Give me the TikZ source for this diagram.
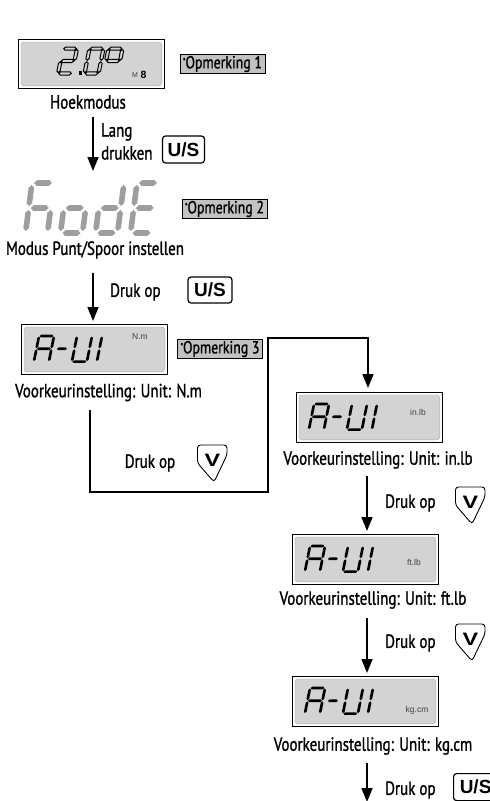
\documentclass[tikz,border=0pt]{standalone}
\usepackage{fontspec}
\setmainfont{PT Sans}[FakeStretch=0.79,FakeBold=1.2]
\newfontfamily\btnfont{Liberation Sans}
\usetikzlibrary{arrows.meta}
\definecolor{lcdbg}{HTML}{D3D3D3}
\definecolor{notebg}{HTML}{C2C2C2}
\definecolor{seggray}{HTML}{9E9E9E}
\newcommand{\sgHor}[3]{(#2+\lcG,#1) -- (#2+\lcG+\lcT/2,#1-\lcT/2) -- (#3-\lcG-\lcT/2,#1-\lcT/2) -- (#3-\lcG,#1) -- (#3-\lcG-\lcT/2,#1+\lcT/2) -- (#2+\lcG+\lcT/2,#1+\lcT/2) -- cycle }
\newcommand{\sgVer}[3]{(#1,#2+\lcG) -- (#1+\lcT/2,#2+\lcG+\lcT/2) -- (#1+\lcT/2,#3-\lcG-\lcT/2) -- (#1,#3-\lcG) -- (#1-\lcT/2,#3-\lcG-\lcT/2) -- (#1-\lcT/2,#2+\lcG+\lcT/2) -- cycle }
\newcommand{\lsa}{\sgHor{0}{0}{\lcW}}
\newcommand{\lsg}{\sgHor{\lcH}{0}{\lcW}}
\newcommand{\lsd}{\sgHor{2*\lcH}{0}{\lcW}}
\newcommand{\lsf}{\sgVer{0}{0}{\lcH}}
\newcommand{\lsb}{\sgVer{\lcW}{0}{\lcH}}
\newcommand{\lse}{\sgVer{0}{\lcH}{2*\lcH}}
\newcommand{\lsc}{\sgVer{\lcW}{\lcH}{2*\lcH}}
\newcommand{\lcdch}[4]{\begin{scope}[shift={(#2,#3)},xslant=\lcS]\path[#1] #4;\end{scope}}
\newcommand{\auidigits}[2]{%
  \lcdch{aseg}{#1+18}{#2+12}{\lsa\lsb\lsc\lse\lsf\lsg}%
  \lcdch{aseg}{#1+38}{#2+12}{\sgHor{\lcH}{0}{11}}%
  \lcdch{aseg}{#1+56}{#2+12}{\lsb\lsc\lsd\lse\lsf}%
  \lcdch{aseg}{#1+81}{#2+12}{\lsf\lse}}
\newcommand{\vbutton}[3]{%
  \draw[vbtn] (#2+0.5,#3+2) -- (#2+0.5,#3+20) -- (#2+17,#3+39) -- (#2+30,#3+12) -- (#2+30,#3+2) -- cycle;
  \node[vsym] (#1) at (#2+15.5,#3+17) {\scalebox{1.3}[1]{V}};}
\newcommand{\noteast}{\raisebox{4pt}{\fontsize{9}{9}\selectfont *}}
\begin{document}
\begin{tikzpicture}[x=1pt,y=-1pt,
  lcdbox/.style={draw=black,line width=0.8pt,fill=white,minimum width=146pt,minimum height=50pt,inner sep=0pt,anchor=north west},
  lcdin/.style={fill=lcdbg,draw=black!35,line width=0.4pt,rounded corners=3pt},
  aseg/.style={fill=black},
  hseg/.style={fill=seggray},
  oseg/.style={draw=black,line width=1pt,fill=lcdbg,line join=miter},
  unit/.style={font=\btnfont\fontsize{8.5}{9}\selectfont,text=black!75,inner sep=0pt},
  lbl/.style={font=\fontsize{19}{21}\selectfont,inner sep=0pt},
  note/.style={draw=black,line width=0.5pt,fill=notebg,minimum width=85pt,minimum height=19pt,inner sep=0pt,font=\fontsize{17.5}{18}\selectfont},
  usbtn/.style={draw=black,line width=1.2pt,rounded corners=3pt,minimum width=42pt,minimum height=27pt,inner sep=0pt,font=\btnfont\bfseries\fontsize{19}{19}\selectfont},
  vbtn/.style={draw=black,line width=0.9pt,rounded corners=3pt},
  vsym/.style={inner sep=0pt,font=\btnfont\bfseries\fontsize{18}{18}\selectfont},
  arr/.style={line width=1.5pt,-{Triangle[length=14pt,width=11pt]}},
  lin/.style={line width=1.5pt}]
\useasboundingbox (0,0) rectangle (490,801);

% ---- top display 2.0°
\node[lcdbox,minimum height=49pt] (lcd0) at (18,39) {};
\path[lcdin] ([shift={(3,3)}]lcd0.north west) rectangle ([shift={(-3,-3)}]lcd0.south east);
\def\lcW{14}\def\lcH{12.4}\def\lcT{3.2}\def\lcG{0.8}\def\lcS{0.2}
\lcdch{oseg}{63}{48.6}{\lsa\lsb\lsg\lse\lsd}
\fill (78.5,71) rectangle (82,74.5);
\lcdch{oseg}{89.5}{48.6}{\lsa\lsb\lsc\lsd\lse\lsf}
\lcdch{oseg}{108.5}{48.6}{\lsa\lsb\lsg\lsf}
\node[anchor=base west,inner sep=0pt,font=\btnfont\fontsize{7}{7}\selectfont,text=black!75] (m8m) at (132,77) {M};
\node[anchor=base west,inner sep=0pt,font=\btnfont\bfseries\fontsize{10.5}{10.5}\selectfont] (m8d) at (140.5,78) {8};
\node[note] (n1) at (222.5,64) {\noteast Opmerking 1};
\node[lbl] (t0) at (88,102) {Hoekmodus};

% ---- arrow 1
\coordinate (a1s) at (93,117);
\coordinate (a1e) at (93,171);
\draw[arr] (a1s) -- (a1e);
\node[lbl,anchor=west] (lang) at (101,132) {Lang};
\node[lbl,anchor=west] (druk) at (101,153) {drukken};
\node[usbtn] (us1) at (183.5,149.5) {U/S};

% ---- hodE display
\def\lcW{22}\def\lcH{25}\def\lcT{5.6}\def\lcG{2}\def\lcS{0.13}
\lcdch{hseg}{32}{183}{\lsa\lsf\lse\lsg\lsc}
\lcdch{hseg}{67}{183}{\lsg\lsc\lsd\lse}
\lcdch{hseg}{102}{183}{\lsb\lsc\lsd\lse\lsg}
\lcdch{hseg}{137}{183}{\lsa\lsf\lsg\lse\lsd}
\node[note] (n2) at (224.5,209) {\noteast Opmerking 2};
\node[lbl] (t1) at (95,250) {Modus Punt/Spoor instellen};

% ---- arrow 2
\coordinate (a2s) at (93,273);
\coordinate (a2e) at (93,321);
\draw[arr] (a2s) -- (a2e);
\node[lbl,anchor=west] (d2) at (110,292) {Druk op};
\node[usbtn,minimum width=44pt,minimum height=26pt] (us2) at (210,290) {U/S};

% ---- A-UI displays
\def\lcW{15}\def\lcH{12.8}\def\lcT{2.7}\def\lcG{0.6}\def\lcS{0.2}
\node[lcdbox] (lcd1) at (21,324) {};
\path[lcdin] ([shift={(3,3)}]lcd1.north west) rectangle ([shift={(-3,-3)}]lcd1.south east);
\auidigits{21}{324}
\node[unit] (u1) at (140,337) {N.m};
\node[note] (n3) at (220,349) {\noteast Opmerking 3};
\node[lbl] (t2) at (108.5,392.5) {Voorkeurinstelling: Unit: N.m};

\node[lcdbox] (lcd2) at (296,392) {};
\path[lcdin] ([shift={(3,3)}]lcd2.north west) rectangle ([shift={(-3,-3)}]lcd2.south east);
\auidigits{296}{392}
\node[unit] (u2) at (418,412) {in.lb};
\node[lbl] (t3) at (378,460) {Voorkeurinstelling: Unit: in.lb};

\node[lcdbox] (lcd3) at (292,534) {};
\path[lcdin] ([shift={(3,3)}]lcd3.north west) rectangle ([shift={(-3,-3)}]lcd3.south east);
\auidigits{292}{534}
\node[unit] (u3) at (414,562) {ft.lb};
\node[lbl] (t4) at (373,600) {Voorkeurinstelling: Unit: ft.lb};

\node[lcdbox] (lcd4) at (292,676) {};
\path[lcdin] ([shift={(3,3)}]lcd4.north west) rectangle ([shift={(-3,-3)}]lcd4.south east);
\auidigits{292}{676}
\node[unit] (u4) at (417,710) {kg.cm};
\node[lbl] (t5) at (373,746) {Voorkeurinstelling: Unit: kg.cm};

% ---- loop connector
\coordinate (l0) at (90,410);
\coordinate (l1) at (90,492);
\coordinate (l2) at (268,492);
\coordinate (l3) at (268,338);
\coordinate (l4) at (368,338);
\coordinate (l5) at (368,388);
\draw[arr] (l0) -- (l1) -- (l2) -- (l3) -- (l4) -- (l5);
\node[lbl] (d3) at (150,463) {Druk op};
\vbutton{v1}{197}{443}

% ---- arrow 3
\coordinate (a3s) at (367,476);
\coordinate (a3e) at (367,531);
\draw[arr] (a3s) -- (a3e);
\node[lbl,anchor=west] (d4) at (385,503) {Druk op};
\vbutton{v2}{455}{485}

% ---- arrow 4
\coordinate (a4s) at (367,618);
\coordinate (a4e) at (367,673);
\draw[arr] (a4s) -- (a4e);
\node[lbl,anchor=west] (d5) at (385,643) {Druk op};
\vbutton{v3}{455}{622}

% ---- arrow 5
\coordinate (a5s) at (367,763);
\coordinate (a5e) at (367,802);
\draw[arr] (a5s) -- (a5e);
\node[lbl,anchor=west] (d6) at (385,790) {Druk op};
\node[usbtn,minimum width=44pt,minimum height=27pt,anchor=north west] (us3) at (453,773) {U/S};
\end{tikzpicture}
\end{document}
